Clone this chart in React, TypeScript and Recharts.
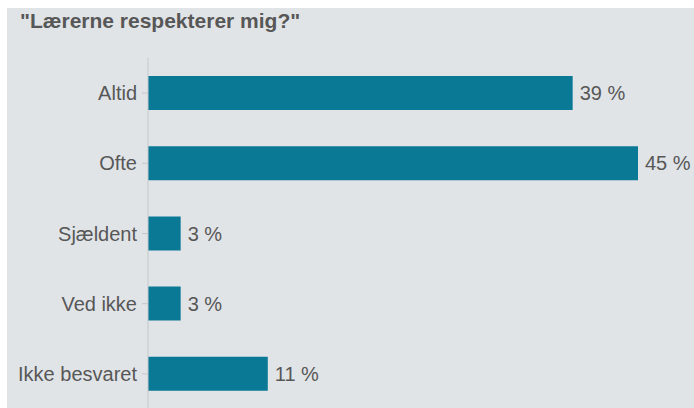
import { BarChart, Bar, XAxis, YAxis, LabelList } from 'recharts'

const categories = ['Altid', 'Ofte', 'Sjældent', 'Ved ikke', 'Ikke besvaret']
const shares = [39, 45, 3, 3, 11]

const data = categories.map((name, i) => ({ name, value: shares[i] }))

const FONT = '"Liberation Sans", Arial, Helvetica, sans-serif'
const TEXT = '#575757'

export default function App() {
  return (
    <div
      style={{
        position: 'absolute',
        left: 7,
        top: 8,
        width: 687,
        height: 400,
        background: '#e1e4e7',
        overflow: 'hidden',
        fontFamily: FONT,
      }}
    >
      <div
        style={{
          position: 'absolute',
          left: 13,
          top: 1,
          fontSize: 21,
          fontWeight: 'bold',
          color: TEXT,
          whiteSpace: 'nowrap',
        }}
      >
        "Lærerne respekterer mig?"
      </div>
      <BarChart
        width={687}
        height={401}
        data={data}
        layout="vertical"
        margin={{ top: 50, right: 56, bottom: 0, left: 0 }}
        barSize={34}
      >
        <XAxis type="number" domain={[0, 45]} hide />
        <YAxis
          type="category"
          dataKey="name"
          width={141}
          axisLine={{ stroke: '#c4c7ca' }}
          tickLine={{ stroke: '#c4c7ca' }}
          tickMargin={5}
          tick={{ fill: TEXT, fontSize: 20, fontFamily: FONT }}
        />
        <Bar dataKey="value" fill="#0a7995" isAnimationActive={false}>
          <LabelList
            dataKey="value"
            position="right"
            offset={7}
            formatter={(v: number) => `${v} %`}
            style={{ fill: TEXT, fontSize: 20, fontFamily: FONT }}
          />
        </Bar>
      </BarChart>
    </div>
  )
}
